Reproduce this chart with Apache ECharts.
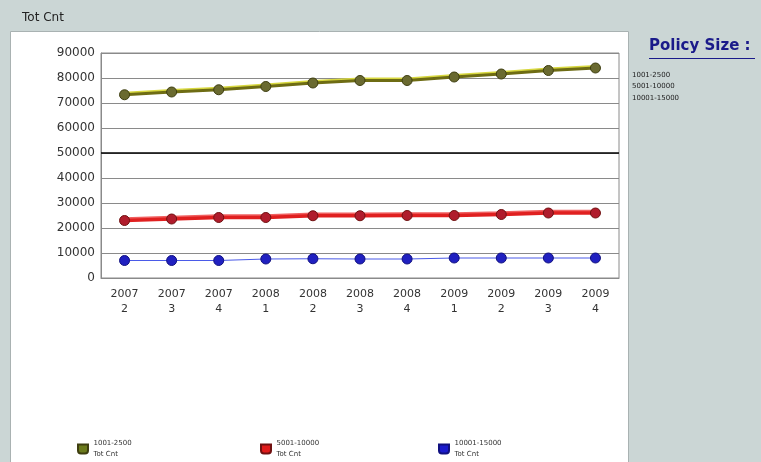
<!DOCTYPE html>
<html><head><meta charset="utf-8">
<script src="https://cdn.jsdelivr.net/npm/echarts@6/dist/echarts.min.js"></script>
<style>html,body{margin:0;padding:0;background:#cbd6d5;}#c{width:761px;height:462px;}</style>
</head><body><div id="c"></div>
<script>
const categories = ['2007\n2','2007\n3','2007\n4','2008\n1','2008\n2','2008\n3','2008\n4','2009\n1','2009\n2','2009\n3','2009\n4'];
const seriesNames = ['1001-2500','5001-10000','10001-15000'];
const s1001 = [73300,74400,75300,76600,78000,79000,79000,80400,81600,83000,84000];
const s5001 = [23000,23600,24200,24200,24900,24900,25000,25000,25400,26000,26000];
const s10001 = [7000,7000,7000,7600,7700,7600,7600,8000,8000,8000,8000];
const yTicks = [0,10000,20000,30000,40000,50000,60000,70000,80000,90000];
const legendSub = 'Tot Cnt';

const chart = echarts.init(document.getElementById('c'), null, {renderer:'canvas'});
const font = 'DejaVu Sans';
const mk = (name, data, lineColor, lineWidth, markColor, borderColor, shadow) => ({
  name, type:'line', data, symbol:'circle', symbolSize:10,
  lineStyle:{color:lineColor, width:lineWidth, shadowColor:shadow||'transparent', shadowOffsetY: shadow?-1.5:0, shadowBlur:0},
  itemStyle:{color:markColor, borderColor:borderColor, borderWidth:1},
  emphasis:{disabled:true}, z:3
});
const bottomLegend = (name, left, color) => ({
  data:[{name, icon:'path://M0,0 L10,0 L10,6 Q10,9 7,9 L3,9 Q0,9 0,6 Z', itemStyle:{color}}],
  left, top:433, itemWidth:11, itemHeight:9,
  textStyle:{fontFamily:font, fontSize:7, color:'#333', lineHeight:11},
  formatter: n => n + '\n' + legendSub,
  selectedMode:false
});
chart.setOption({
  backgroundColor:'#cbd6d5',
  animation:false,
  title:{text:'Tot Cnt', left:17, top:7, textStyle:{fontFamily:font, fontSize:12, fontWeight:'normal', color:'#222'}},
  graphic:[
    {type:'rect', shape:{x:10.5,y:31.5,width:618,height:440}, style:{fill:'#ffffff', stroke:'#a9b2b2', lineWidth:1}, z:-10},
    {type:'text', left:649, top:39, style:{text:'Policy Size :', fontFamily:font, fontSize:15, fontWeight:'bold', fill:'#1a1a8a'}},
    {type:'line', shape:{x1:649,y1:58.5,x2:755,y2:58.5}, style:{stroke:'#1a1a8a', lineWidth:1.2}}
  ],
  legend:[
    {data:seriesNames, orient:'vertical', left:626, top:66, icon:'none', itemWidth:0, itemHeight:8, itemGap:4,
     textStyle:{fontFamily:font, fontSize:7, color:'#222', padding:[0,0,0,-4]}, selectedMode:false},
    bottomLegend(seriesNames[0], 72, '#6b7a1c'),
    bottomLegend(seriesNames[1], 255, '#e01a1a'),
    bottomLegend(seriesNames[2], 433, '#1a1acc')
  ],
  grid:{left:101, top:53, width:518, height:225, show:true, borderColor:'#8a8a8a', borderWidth:1, backgroundColor:'transparent'},
  xAxis:{type:'category', data:categories, boundaryGap:true,
    axisLine:{show:true, lineStyle:{color:'#8a8a8a'}}, axisTick:{show:false},
    axisLabel:{fontFamily:font, fontSize:11, color:'#333', lineHeight:15, margin:9, interval:0}},
  yAxis:{type:'value', min:yTicks[0], max:yTicks[yTicks.length-1], interval:10000,
    axisLine:{show:true, lineStyle:{color:'#8a8a8a'}}, axisTick:{show:false},
    axisLabel:{fontFamily:font, fontSize:12, color:'#333', margin:6, formatter: v => String(v)},
    splitLine:{lineStyle:{color:'#8a8a8a', width:1}}},
  series:[
    Object.assign(mk(seriesNames[0], s1001, '#6e6c14', 3, '#6a6a30', '#3e3e10', '#d8d840'),
      {markLine:{silent:true, symbol:'none', label:{show:false}, lineStyle:{color:'#000', width:1.5, type:'solid'}, data:[{yAxis:50000}]}}),
    mk(seriesNames[1], s5001, '#e02020', 3.5, '#b01c2c', '#701010', '#f06060'),
    mk(seriesNames[2], s10001, '#4a5ae8', 1, '#2020c0', '#101080', null)
  ]
});
</script></body></html>
